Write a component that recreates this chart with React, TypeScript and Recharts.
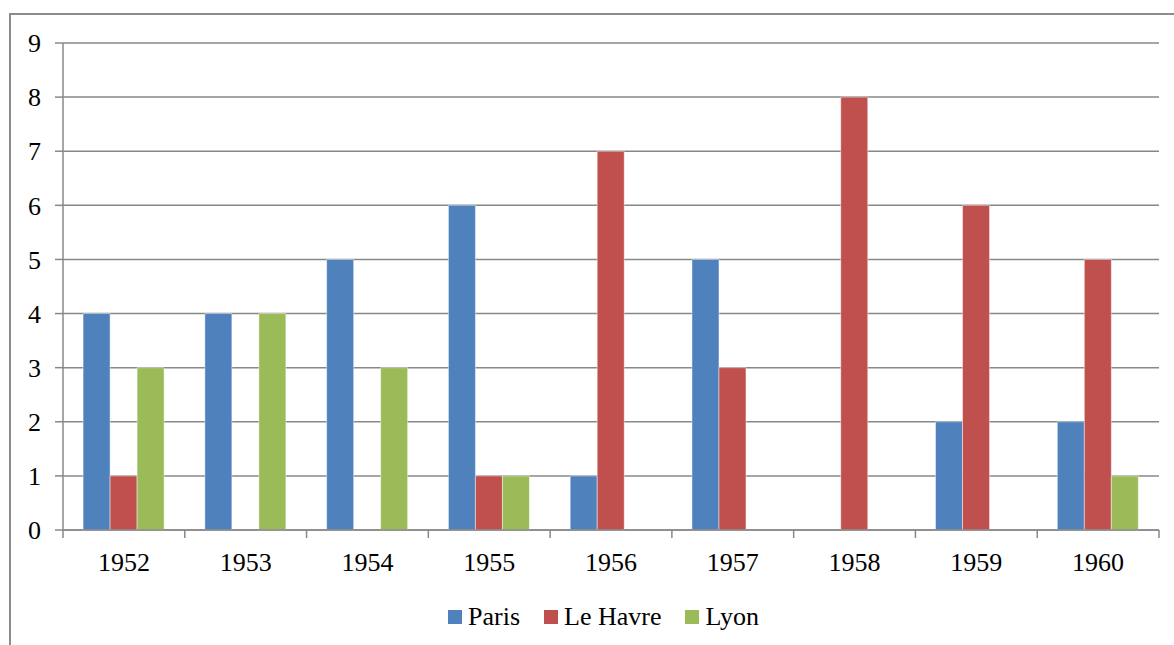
import { Bar, BarChart, CartesianGrid, XAxis, YAxis } from 'recharts';

const years = ['1952', '1953', '1954', '1955', '1956', '1957', '1958', '1959', '1960'];
const paris = [4, 4, 5, 6, 1, 5, 0, 2, 2];
const leHavre = [1, 0, 0, 1, 7, 3, 8, 6, 5];
const lyon = [3, 4, 3, 1, 0, 0, 0, 0, 1];
const yTicks = [0, 1, 2, 3, 4, 5, 6, 7, 8, 9];

const series = [
    { key: 'Paris', color: '#4F81BD' },
    { key: 'Le Havre', color: '#C0504D' },
    { key: 'Lyon', color: '#9BBB59' },
];

const data = years.map((year, i) => ({
    year,
    Paris: paris[i],
    'Le Havre': leHavre[i],
    Lyon: lyon[i],
}));

const W = 1174;
const H = 645;
const margin = { top: 43, right: 15, left: 0, bottom: 85 };
const yAxisWidth = 63;
const xAxisHeight = 30;
const font = 'Liberation Serif';
const gridColor = '#888888';

const plotWidth = W - margin.left - margin.right - yAxisWidth;
const bandWidth = plotWidth / years.length;

// category label in the middle, tick marks on the category boundaries (Excel style)
function YearTick(props: any) {
    const { x, y, payload, index } = props;
    const left = x - bandWidth / 2;
    const right = x + bandWidth / 2;
    return (
        <g>
            <line x1={left} y1={y} x2={left} y2={y + 8} stroke={gridColor} strokeWidth={1.5} />
            {index === years.length - 1 && (
                <line x1={right} y1={y} x2={right} y2={y + 8} stroke={gridColor} strokeWidth={1.5} />
            )}
            <text x={x} y={y + 41} textAnchor="middle" style={{ fontFamily: font }} fontSize={26} fill="#000">
                {payload.value}
            </text>
        </g>
    );
}

function ChartLegend() {
    return (
        <div
            style={{
                position: 'absolute',
                left: 448,
                top: 602,
                display: 'flex',
                alignItems: 'center',
                fontFamily: font,
                fontSize: 26,
                color: '#000',
            }}
        >
            {series.map(s => (
                <div key={s.key} style={{ display: 'flex', alignItems: 'center', marginRight: 24 }}>
                    <span style={{ width: 14, height: 14, background: s.color, marginRight: 6, display: 'inline-block' }} />
                    <span>{s.key}</span>
                </div>
            ))}
        </div>
    );
}

export default function App() {
    return (
        <div style={{ position: 'absolute', left: 0, top: 0, width: W, height: H, background: '#fff', overflow: 'hidden' }}>
            <div
                style={{
                    position: 'absolute',
                    left: 9,
                    top: 13,
                    width: W + 20,
                    height: H + 20,
                    border: '2px solid #8c8c8c',
                    boxSizing: 'border-box',
                }}
            />
            <div style={{ position: 'absolute', left: 0, top: 0 }}>
                <BarChart width={W} height={H} data={data} margin={margin} barGap={0} barCategoryGap="16.5%">
                    <CartesianGrid vertical={false} stroke={gridColor} strokeWidth={1.5} />
                    <XAxis
                        dataKey="year"
                        height={xAxisHeight}
                        tickLine={false}
                        tickSize={0}
                        tickMargin={0}
                        interval={0}
                        axisLine={{ stroke: gridColor, strokeWidth: 1.5 }}
                        tick={<YearTick />}
                    />
                    <YAxis
                        width={yAxisWidth}
                        domain={[0, 9]}
                        ticks={yTicks}
                        interval={0}
                        tickSize={8}
                        tickMargin={14}
                        tickLine={{ stroke: gridColor, strokeWidth: 1.5 }}
                        axisLine={{ stroke: gridColor, strokeWidth: 1.5 }}
                        tick={{ fontFamily: font, fontSize: 26, fill: '#000' }}
                    />
                    {series.map(s => (
                        <Bar
                            key={s.key}
                            dataKey={s.key}
                            fill={s.color}
                            stroke="rgba(255,255,255,0.45)"
                            strokeWidth={1}
                            isAnimationActive={false}
                        />
                    ))}
                </BarChart>
            </div>
            <ChartLegend />
        </div>
    );
}
